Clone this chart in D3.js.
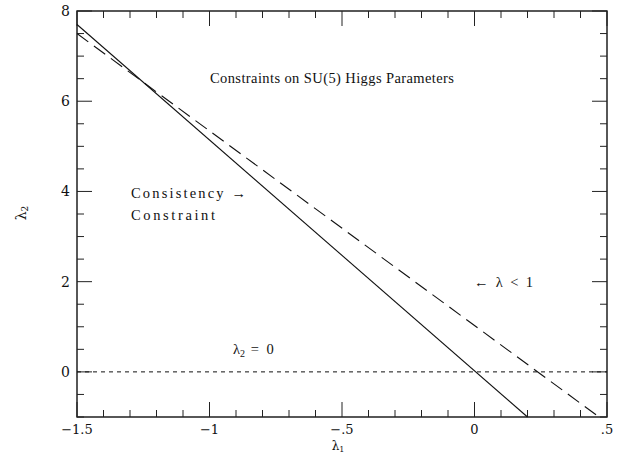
<!DOCTYPE html>
<html>
<head>
<meta charset="utf-8">
<script src="https://cdn.jsdelivr.net/npm/d3@7"></script>
<style>
  html, body { margin: 0; padding: 0; background: #fff; }
  svg { display: block; }
  text { fill: #111; }
</style>
</head>
<body>
<svg id="chart" width="618" height="453"></svg>
<script>
// Boundary lines in the (lambda1, lambda2) plane
const consistencyLine = [[-1.5, 7.7], [0.2, -1.0]];
const unitarityLine = [[-1.5, 7.5], [0.47, -1.0]];
const zeroLine = [[-1.5, 0], [0.5, 0]];

// Axis ticks
const xMajorTicks = [-1.5, -1, -0.5, 0, 0.5];
const xTickLabels = ["\u22121.5", "\u22121", "\u2212.5", "0", ".5"];
const xMinorTicks = d3.range(-15, 6).map(i => i / 10);
const yMajorTicks = [0, 2, 4, 6, 8];
const yTickLabels = ["0", "2", "4", "6", "8"];
const yMinorTicks = d3.range(-2, 17).map(i => i / 2);

const margin = { left: 77, right: 11, top: 11, bottom: 36 };
const W = 618, H = 453;
const svg = d3.select("#chart");

const x = d3.scaleLinear().domain([-1.5, 0.5]).range([margin.left, W - margin.right]);
const y = d3.scaleLinear().domain([-1, 8]).range([H - margin.bottom, margin.top]);

const x0 = x.range()[0], x1 = x.range()[1];
const y0 = y.range()[0], y1 = y.range()[1];

const tickFont = "'DejaVu Serif', 'Liberation Serif', serif";
const major = 15, minor = 7;

// Frame
svg.append("rect")
  .attr("x", x0).attr("y", y1)
  .attr("width", x1 - x0).attr("height", y0 - y1)
  .attr("fill", "none").attr("stroke", "#111").attr("stroke-width", 1.4);

// Ticks on all four sides, pointing inward
const tickG = svg.append("g").attr("stroke", "#222").attr("stroke-width", 1);
const isMajorX = v => xMajorTicks.some(m => Math.abs(m - v) < 1e-9);
const isMajorY = v => yMajorTicks.some(m => Math.abs(m - v) < 1e-9);

xMinorTicks.forEach(v => {
  const len = isMajorX(v) ? major : minor;
  tickG.append("line").attr("x1", x(v)).attr("x2", x(v)).attr("y1", y0).attr("y2", y0 - len);
  tickG.append("line").attr("x1", x(v)).attr("x2", x(v)).attr("y1", y1).attr("y2", y1 + len);
});
yMinorTicks.forEach(v => {
  const len = isMajorY(v) ? major : minor;
  tickG.append("line").attr("x1", x0).attr("x2", x0 + len).attr("y1", y(v)).attr("y2", y(v));
  tickG.append("line").attr("x1", x1).attr("x2", x1 - len).attr("y1", y(v)).attr("y2", y(v));
});

// Tick labels
svg.append("g").selectAll("text").data(xMajorTicks).join("text")
  .attr("x", d => x(d)).attr("y", 434)
  .attr("text-anchor", "middle")
  .attr("font-family", tickFont).attr("font-size", 13)
  .text((d, i) => xTickLabels[i]);

svg.append("g").selectAll("text").data(yMajorTicks).join("text")
  .attr("x", 70).attr("y", d => y(d) + 5)
  .attr("text-anchor", "end")
  .attr("font-family", tickFont).attr("font-size", 14)
  .text((d, i) => yTickLabels[i]);

// Axis titles
const xt = svg.append("text").attr("x", 338).attr("y", 450)
  .attr("text-anchor", "middle").attr("font-family", tickFont).attr("font-size", 12);
xt.append("tspan").text("\u03bb");
xt.append("tspan").attr("font-size", 8).attr("dy", 2).text("1");

const yt = svg.append("text")
  .attr("transform", "translate(26,213) rotate(-90)")
  .attr("text-anchor", "middle").attr("font-family", tickFont).attr("font-size", 14);
yt.append("tspan").text("\u03bb");
yt.append("tspan").attr("font-size", 9).attr("dy", 2).text("2");

// Curves
const line = d3.line().x(d => x(d[0])).y(d => y(d[1]));
const plot = svg.append("g");
plot.append("path").datum(consistencyLine).attr("d", line)
  .attr("fill", "none").attr("stroke", "#111").attr("stroke-width", 1.1);
plot.append("path").datum(unitarityLine).attr("d", line)
  .attr("fill", "none").attr("stroke", "#111").attr("stroke-width", 1.1)
  .attr("stroke-dasharray", "14,7");
plot.append("path").datum(zeroLine).attr("d", line)
  .attr("fill", "none").attr("stroke", "#111").attr("stroke-width", 1)
  .attr("stroke-dasharray", "4,4");

// Annotations
const annFont = "'Liberation Serif', 'DejaVu Serif', serif";
function ann(tx, ty, str, len) {
  return svg.append("text").attr("x", tx).attr("y", ty)
    .attr("font-family", annFont).attr("font-size", 14.5)
    .attr("textLength", len).attr("lengthAdjust", "spacing")
    .text(str);
}
ann(210, 83, "Constraints on SU(5) Higgs Parameters", 244);
ann(131, 198, "Consistency \u2192", 115);
ann(131, 220, "Constraint", 84);
ann(474, 287, "\u2190 \u03bb < 1", 59);

const lz = svg.append("text").attr("x", 233).attr("y", 354)
  .attr("font-family", annFont).attr("font-size", 14.5);
lz.append("tspan").text("\u03bb");
lz.append("tspan").attr("font-size", 10).attr("dy", 3).text("2");
lz.append("tspan").attr("dy", -3).attr("letter-spacing", 2).text(" = 0");
</script>
</body>
</html>
